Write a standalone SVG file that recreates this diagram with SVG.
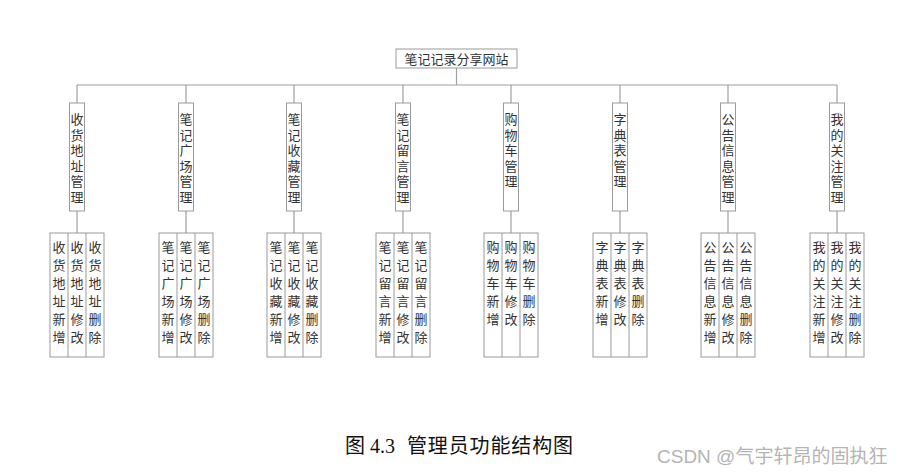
<svg xmlns="http://www.w3.org/2000/svg" width="903" height="475" viewBox="0 0 903 475">
<style>
.bx{fill:#fff;stroke:#9a9a9a;stroke-width:1}
.ln{stroke:#a0a0a0;stroke-width:1.2;fill:none}
.t{font-family:"Noto Sans CJK SC","Noto Sans",sans-serif;font-size:13px;fill:#333;text-anchor:middle}
.cap{font-family:"Liberation Serif","Noto Sans CJK SC",serif;font-size:20px;fill:#111}
.wm{font-family:"Liberation Sans","Noto Sans CJK SC",sans-serif;font-size:19px;fill:#b4b4b4}
</style>
<rect width="903" height="475" fill="#fff"/>
<g id="connectors">
<line class="ln" x1="456.5" y1="68" x2="456.5" y2="85"/>
<line class="ln" x1="77" y1="85" x2="837" y2="85"/>
<path class="ln" d="M77 85V103M186 85V103M294 85V103M403 85V103M511 85V103M620 85V103M728 85V103M837 85V103"/>
<path class="ln" d="M77 211V233M186 211V233M294 211V233M403 211V233M511 211V233M620 211V233M728 211V233M837 211V233"/>
</g>
<g id="root">
<rect class="bx" x="396" y="49" width="121" height="19"/>
<text class="t" x="456.5" y="63.5">笔记记录分享网站</text>
</g>
<g id="n1">
<rect class="bx" x="69.5" y="103" width="15" height="108"/>
<text class="t" x="77 77 77 77 77 77" y="124.4 139.9 155.4 170.9 186.4 201.9">收货地址管理</text>
</g>
<g id="n1-sub">
<rect class="bx" x="50" y="233" width="54" height="124"/>
<path class="bx" d="M68 233V357M86 233V357"/>
<text class="t" x="59 59 59 59 59 59" y="252.2 270.2 288.2 306.2 324.2 342.2">收货地址新增</text>
<text class="t" x="77 77 77 77 77 77" y="252.2 270.2 288.2 306.2 324.2 342.2">收货地址修改</text>
<text class="t" x="95 95 95 95 95 95" y="252.2 270.2 288.2 306.2 324.2 342.2">收货地址删除</text>
</g>
<g id="n2">
<rect class="bx" x="178.5" y="103" width="15" height="108"/>
<text class="t" x="186 186 186 186 186 186" y="124.4 139.9 155.4 170.9 186.4 201.9">笔记广场管理</text>
</g>
<g id="n2-sub">
<rect class="bx" x="159" y="233" width="54" height="124"/>
<path class="bx" d="M177 233V357M195 233V357"/>
<text class="t" x="168 168 168 168 168 168" y="252.2 270.2 288.2 306.2 324.2 342.2">笔记广场新增</text>
<text class="t" x="186 186 186 186 186 186" y="252.2 270.2 288.2 306.2 324.2 342.2">笔记广场修改</text>
<text class="t" x="204 204 204 204 204 204" y="252.2 270.2 288.2 306.2 324.2 342.2">笔记广场删除</text>
</g>
<g id="n3">
<rect class="bx" x="286.5" y="103" width="15" height="108"/>
<text class="t" x="294 294 294 294 294 294" y="124.4 139.9 155.4 170.9 186.4 201.9">笔记收藏管理</text>
</g>
<g id="n3-sub">
<rect class="bx" x="267" y="233" width="54" height="124"/>
<path class="bx" d="M285 233V357M303 233V357"/>
<text class="t" x="276 276 276 276 276 276" y="252.2 270.2 288.2 306.2 324.2 342.2">笔记收藏新增</text>
<text class="t" x="294 294 294 294 294 294" y="252.2 270.2 288.2 306.2 324.2 342.2">笔记收藏修改</text>
<text class="t" x="312 312 312 312 312 312" y="252.2 270.2 288.2 306.2 324.2 342.2">笔记收藏删除</text>
</g>
<g id="n4">
<rect class="bx" x="395.5" y="103" width="15" height="108"/>
<text class="t" x="403 403 403 403 403 403" y="124.4 139.9 155.4 170.9 186.4 201.9">笔记留言管理</text>
</g>
<g id="n4-sub">
<rect class="bx" x="376" y="233" width="54" height="124"/>
<path class="bx" d="M394 233V357M412 233V357"/>
<text class="t" x="385 385 385 385 385 385" y="252.2 270.2 288.2 306.2 324.2 342.2">笔记留言新增</text>
<text class="t" x="403 403 403 403 403 403" y="252.2 270.2 288.2 306.2 324.2 342.2">笔记留言修改</text>
<text class="t" x="421 421 421 421 421 421" y="252.2 270.2 288.2 306.2 324.2 342.2">笔记留言删除</text>
</g>
<g id="n5">
<rect class="bx" x="503.5" y="103" width="15" height="108"/>
<text class="t" x="511 511 511 511 511" y="124.4 139.9 155.4 170.9 186.4">购物车管理</text>
</g>
<g id="n5-sub">
<rect class="bx" x="484" y="233" width="54" height="124"/>
<path class="bx" d="M502 233V357M520 233V357"/>
<text class="t" x="493 493 493 493 493" y="252.2 270.2 288.2 306.2 324.2">购物车新增</text>
<text class="t" x="511 511 511 511 511" y="252.2 270.2 288.2 306.2 324.2">购物车修改</text>
<text class="t" x="529 529 529 529 529" y="252.2 270.2 288.2 306.2 324.2">购物车删除</text>
</g>
<g id="n6">
<rect class="bx" x="612.5" y="103" width="15" height="108"/>
<text class="t" x="620 620 620 620 620" y="124.4 139.9 155.4 170.9 186.4">字典表管理</text>
</g>
<g id="n6-sub">
<rect class="bx" x="593" y="233" width="54" height="124"/>
<path class="bx" d="M611 233V357M629 233V357"/>
<text class="t" x="602 602 602 602 602" y="252.2 270.2 288.2 306.2 324.2">字典表新增</text>
<text class="t" x="620 620 620 620 620" y="252.2 270.2 288.2 306.2 324.2">字典表修改</text>
<text class="t" x="638 638 638 638 638" y="252.2 270.2 288.2 306.2 324.2">字典表删除</text>
</g>
<g id="n7">
<rect class="bx" x="720.5" y="103" width="15" height="108"/>
<text class="t" x="728 728 728 728 728 728" y="124.4 139.9 155.4 170.9 186.4 201.9">公告信息管理</text>
</g>
<g id="n7-sub">
<rect class="bx" x="701" y="233" width="54" height="124"/>
<path class="bx" d="M719 233V357M737 233V357"/>
<text class="t" x="710 710 710 710 710 710" y="252.2 270.2 288.2 306.2 324.2 342.2">公告信息新增</text>
<text class="t" x="728 728 728 728 728 728" y="252.2 270.2 288.2 306.2 324.2 342.2">公告信息修改</text>
<text class="t" x="746 746 746 746 746 746" y="252.2 270.2 288.2 306.2 324.2 342.2">公告信息删除</text>
</g>
<g id="n8">
<rect class="bx" x="829.5" y="103" width="15" height="108"/>
<text class="t" x="837 837 837 837 837 837" y="124.4 139.9 155.4 170.9 186.4 201.9">我的关注管理</text>
</g>
<g id="n8-sub">
<rect class="bx" x="810" y="233" width="54" height="124"/>
<path class="bx" d="M828 233V357M846 233V357"/>
<text class="t" x="819 819 819 819 819 819" y="252.2 270.2 288.2 306.2 324.2 342.2">我的关注新增</text>
<text class="t" x="837 837 837 837 837 837" y="252.2 270.2 288.2 306.2 324.2 342.2">我的关注修改</text>
<text class="t" x="855 855 855 855 855 855" y="252.2 270.2 288.2 306.2 324.2 342.2">我的关注删除</text>
</g>
<text class="cap" y="453"><tspan x="345">图</tspan><tspan x="370">4.3</tspan><tspan x="407" textLength="166" lengthAdjust="spacing">管理员功能结构图</tspan></text>
<text class="wm" x="657" y="463">CSDN @气宇轩昂的固执狂</text>
</svg>
